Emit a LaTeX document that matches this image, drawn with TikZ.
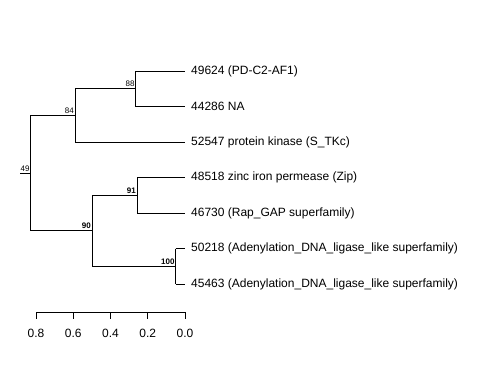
\documentclass[tikz,border=0pt]{standalone}
\usepackage{fontspec}
\setmainfont{Liberation Sans}
\usetikzlibrary{positioning}
\tikzset{
  trbranch/.style={draw=black, line width=0.8pt},
  trtip/.style={anchor=west, inner sep=0pt, xshift=6pt, font=\fontsize{12}{14}\selectfont},
  trboot/.style={anchor=south east, inner xsep=1pt, inner ysep=1.5pt, font=\fontsize{8}{9}\selectfont},
  trtick/.style={draw=black, line width=0.8pt},
  trticklab/.style={font=\fontsize{12}{14}\selectfont}
}

\begin{document}
\begin{tikzpicture}[x=1pt, y=-1pt]
  \useasboundingbox (0,0) rectangle (480,384);
  % tips
  \foreach \k/\y/\txt in {1/71/{49624 (PD-C2-AF1)}, 2/106.5/{44286 NA}, 3/142/{52547 protein kinase (S\_TKc)},
      4/177.5/{48518 zinc iron permease (Zip)}, 5/213/{46730 (Rap\_GAP superfamily)},
      6/248.5/{50218 (Adenylation\_DNA\_ligase\_like superfamily)}, 7/284/{45463 (Adenylation\_DNA\_ligase\_like superfamily)}} {
    \coordinate (t\k) at (185,\y);
    \node[trtip] (lab\k) at (t\k) {\txt};
  }
  % inner nodes
  \coordinate (n88) at (135.7,88.75);
  \coordinate (n84) at (75,115.4);
  \coordinate (n91) at (137,195.25);
  \coordinate (n100) at (175.7,266.25);
  \coordinate (n90) at (92,230.75);
  \coordinate (n49) at (30.7,173.1);
  \coordinate (rootstub) at (20,173.1);
  % branches
  \draw[trbranch] (rootstub) -- (n49);
  \draw[trbranch] (n49 |- n84) -- (n49 |- n90);
  \draw[trbranch] (n49 |- n84) -- (n84);
  \draw[trbranch] (n49 |- n90) -- (n90);
  \draw[trbranch] (n84 |- n88) -- (n84 |- t3);
  \draw[trbranch] (n84 |- n88) -- (n88);
  \draw[trbranch] (n84 |- t3) -- (t3);
  \draw[trbranch] (n88 |- t1) -- (n88 |- t2);
  \draw[trbranch] (n88 |- t1) -- (t1);
  \draw[trbranch] (n88 |- t2) -- (t2);
  \draw[trbranch] (n90 |- n91) -- (n90 |- n100);
  \draw[trbranch] (n90 |- n91) -- (n91);
  \draw[trbranch] (n90 |- n100) -- (n100);
  \draw[trbranch] (n91 |- t4) -- (n91 |- t5);
  \draw[trbranch] (n91 |- t4) -- (t4);
  \draw[trbranch] (n91 |- t5) -- (t5);
  \draw[trbranch] (n100 |- t6) -- (n100 |- t7);
  \draw[trbranch] (n100 |- t6) -- (t6);
  \draw[trbranch] (n100 |- t7) -- (t7);
  % support values
  \node[trboot] (b49) at (n49) {49};
  \node[trboot] (b84) at (n84) {84};
  \node[trboot] (b88) at (n88) {88};
  \node[trboot, font=\fontsize{8}{9}\selectfont\bfseries] (b90) at (n90) {90};
  \node[trboot, font=\fontsize{8}{9}\selectfont\bfseries] (b91) at (n91) {91};
  \node[trboot, font=\fontsize{8}{9}\selectfont\bfseries] (b100) at (n100) {100};
  % scale axis
  \coordinate (axl) at (36,312);
  \coordinate (axr) at (185,312);
  \draw[trtick] (axl) -- (axr);
  \foreach \v/\lab in {0/0.0, 1/0.2, 2/0.4, 3/0.6, 4/0.8} {
    \coordinate (tk\v) at (185-37.25*\v,312);
    \draw[trtick] (tk\v) -- ++(0,7);
    \node[trticklab] (tl\v) at (185-37.25*\v,333) {\lab};
  }
\end{tikzpicture}
\end{document}
